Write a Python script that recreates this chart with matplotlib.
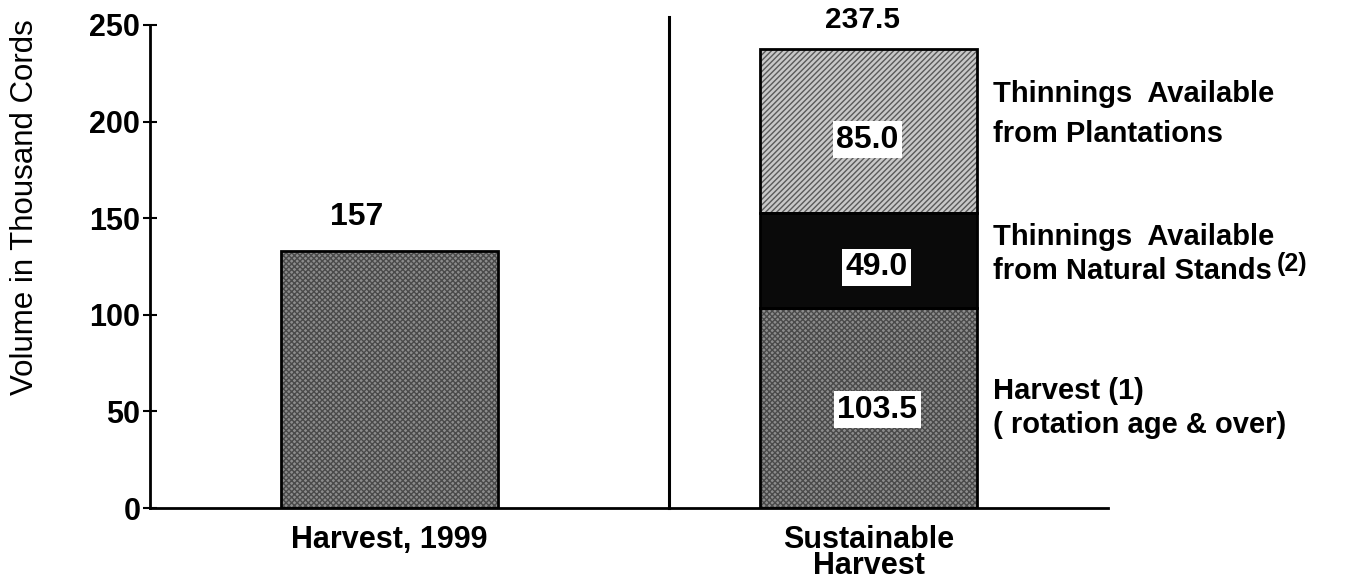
import matplotlib
matplotlib.use("Agg")
import matplotlib.pyplot as plt

# ---- data ----
categories = ["Harvest, 1999", "Sustainable\nHarvest"]
harvest_1999 = 133.0            # bar height as drawn
harvest_1999_label = "157"      # label printed above the bar
sustainable_segments = [103.5, 49.0, 85.0]   # Harvest(1), Natural stands, Plantations
segment_labels = ["103.5", "49.0", "85.0"]
sustainable_total_label = "237.5"
segment_names = [
    "Harvest (1)\n( rotation age & over)",
    "Thinnings  Available\nfrom Natural Stands",
    "Thinnings  Available\nfrom Plantations",
]
yticks = [0, 50, 100, 150, 200, 250]

plt.rcParams['font.family'] = ['Liberation Sans', 'DejaVu Sans']

W, H = 1352, 581
fig = plt.figure(figsize=(W / 100, H / 100), dpi=100)
ax = fig.add_axes([150 / W, 73 / H, 958 / W, 483 / H])
ax.set_xlim(-0.5, 1.5)
ax.set_ylim(0, 250)

def py(p):
    """pixel row -> data y"""
    return (508 - p) / 1.932

def px(p):
    """pixel column -> data x"""
    return (p - 150) / 479 - 0.5

bw = 0.454
dot_face = "#8c8c8c"
dot_hatch = "#4a4a4a"

def hatched_bar(x, h, bottom, face, hatch, hcolor):
    ax.bar(x, h, bw, bottom=bottom, color=face, hatch=hatch,
           edgecolor=hcolor, linewidth=0, zorder=2)
    ax.bar(x, h, bw, bottom=bottom, fill=False, edgecolor="black",
           linewidth=2.0, zorder=3)

# left bar
hatched_bar(0, harvest_1999, 0, dot_face, "xxxxxx", dot_hatch)

# right stacked bar
styles = [
    (dot_face, "xxxxxx", dot_hatch),
    ("#0a0a0a", None, "#0a0a0a"),
    ("#c8c8c8", "//////", "#5a5a5a"),
]
bottom = 0
mids = []
for val, (fc, ht, hc) in zip(sustainable_segments, styles):
    hatched_bar(1, val, bottom, fc, ht, hc)
    mids.append(bottom + val / 2)
    bottom += val

# value labels in white boxes
offsets = [-1.0, -3.5, -4.5]
xoffs = [0.018, 0.016, -0.002]
for m, lab, dy, dx in zip(mids, segment_labels, offsets, xoffs):
    ax.text(1 + dx, m + dy, lab, ha="center", va="center", fontsize=23,
            fontweight="bold", zorder=5,
            bbox=dict(facecolor="white", edgecolor="none", pad=2.5))

# labels above bars
ax.text(px(357), py(217), harvest_1999_label, ha="center", va="center",
        fontsize=23, fontweight="bold")
ax.text(px(863), py(20), sustainable_total_label, ha="center", va="center",
        fontsize=21.5, fontweight="bold", clip_on=False)

# separator line
ax.plot([px(669), px(669)], [0, 254], color="black", lw=2.2, clip_on=False,
        zorder=4)

# right-side segment descriptions
ax.text(px(993), py(408), segment_names[0], ha="left", va="center",
        fontsize=21, fontweight="bold", linespacing=1.31, clip_on=False)
ax.text(px(993), py(254), segment_names[1], ha="left", va="center",
        fontsize=21, fontweight="bold", linespacing=1.31, clip_on=False)
ax.text(px(1277), py(264), "(2)", ha="left", va="center",
        fontsize=18, fontweight="bold", clip_on=False)
ax.text(px(993), py(114), segment_names[2], ha="left", va="center",
        fontsize=21, fontweight="bold", linespacing=1.59, clip_on=False)

# axes styling
for s in ["top", "right"]:
    ax.spines[s].set_visible(False)
ax.spines["left"].set_linewidth(2.0)
ax.spines["bottom"].set_linewidth(2.0)
ax.set_yticks(yticks)
ax.set_yticklabels([str(t) for t in yticks], fontsize=22, fontweight="bold")
ax.tick_params(axis="y", direction="inout", length=10, width=1.5, pad=2)
ax.set_xticks([0, 1])
ax.set_xticklabels(categories, fontsize=22, fontweight="bold",
                   linespacing=0.85)
ax.tick_params(axis="x", length=0, pad=12)

fig.text(25 / W, (H - 207) / H, "Volume in Thousand Cords", rotation=90,
         ha="center", va="center", fontsize=22.5)

fig.savefig("out.png", dpi=100)
